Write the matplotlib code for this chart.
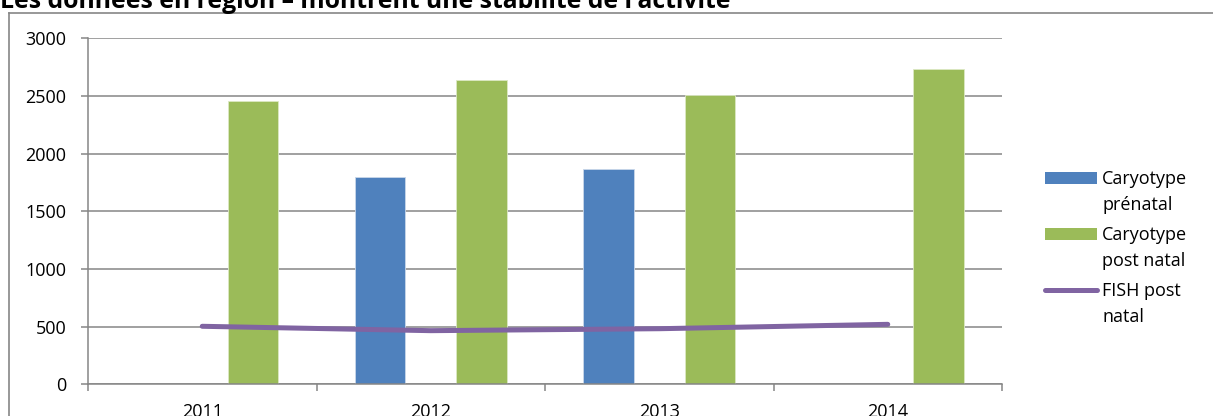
import numpy as np
import matplotlib
matplotlib.use("Agg")
import matplotlib.pyplot as plt
from matplotlib.patches import Rectangle
from matplotlib.lines import Line2D

years = ["2011", "2012", "2013", "2014"]
prenatal = [np.nan, 1800, 1870, np.nan]
post_natal = [2460, 2635, 2505, 2735]
fish_post_natal = [503, 465, 482, 520]

title = "Les données en région – montrent une stabilité de l’activité"
labels = ["Caryotype\nprénatal", "Caryotype\npost natal", "FISH post\nnatal"]

BLUE = "#4F81BD"
GREEN = "#9BBB59"
PURPLE = "#8064A2"
GRID = "#868686"

plt.rcParams["font.family"] = ["Open Sans", "DejaVu Sans"]

W, H = 1213, 416
fig = plt.figure(figsize=(W / 100, H / 100), dpi=100)
ax = fig.add_axes([88 / W, (H - 384.3) / H, 914 / W, 346 / H])

x = np.arange(len(years))
bw = 0.222
ax.bar(x - bw, prenatal, bw, color=BLUE, edgecolor="#C9D7EA", linewidth=0.6, zorder=2)
ax.bar(x + bw, post_natal, bw, color=GREEN, edgecolor="#DCE8C4", linewidth=0.6, zorder=2)
ax.plot(x, fish_post_natal, color=PURPLE, lw=3.6, solid_capstyle="round", zorder=3)

ax.set_xlim(-0.5, len(years) - 0.5)
ax.set_ylim(0, 3000)
ax.set_yticks(range(0, 3001, 500))
ax.yaxis.grid(True, color=GRID, lw=1.1, zorder=0)
ax.set_axisbelow(True)

ax.set_xticks(x)
ax.set_xticklabels(years)
ax.set_xticks(np.arange(-0.5, len(years)), minor=True)
ax.tick_params(axis="x", which="major", length=0, pad=13.5, labelsize=13)
ax.tick_params(axis="x", which="minor", length=5, width=1.1, color=GRID, direction="out")
ax.tick_params(axis="y", length=5, width=1.1, color=GRID, pad=10.5, labelsize=13)

for side in ("top", "right"):
    ax.spines[side].set_visible(False)
for side in ("left", "bottom"):
    ax.spines[side].set_color(GRID)
    ax.spines[side].set_linewidth(1.1)

# legend drawn in figure pixels: key beside the first line of each two-line label
def px(xp, yp):
    return xp / W, (H - yp) / H

entry_y = [178, 234, 290]
kinds = [("bar", BLUE), ("bar", GREEN), ("line", PURPLE)]
for (kind, col), lab, yc in zip(kinds, labels, entry_y):
    if kind == "bar":
        x0, y0 = px(1045, yc + 6)
        fig.add_artist(Rectangle((x0, y0), 52 / W, 12 / H, facecolor=col,
                                 edgecolor="none", transform=fig.transFigure))
    else:
        fig.add_artist(Line2D([1045 / W, 1097 / W], [(H - yc) / H] * 2, color=col, lw=3.6,
                              solid_capstyle="round", transform=fig.transFigure))
    for i, line in enumerate(lab.split("\n")):
        tx, ty = px(1102, yc + 6.5 + 25.5 * i)
        fig.text(tx, ty, line, fontsize=13, ha="left", va="baseline")

# outer chart frame, running off the bottom and right edges
fig.add_artist(Line2D([9 / W, 9 / W], [-0.1, (H - 13) / H], color=GRID, lw=1.2,
                      transform=fig.transFigure))
fig.add_artist(Line2D([9 / W, 1.1], [(H - 13) / H, (H - 13) / H], color=GRID, lw=1.2,
                      transform=fig.transFigure))

fig.text(0, (H - 8) / H, title, fontsize=17.8, fontweight="bold", ha="left", va="baseline")

fig.savefig("out.png", dpi=100)
